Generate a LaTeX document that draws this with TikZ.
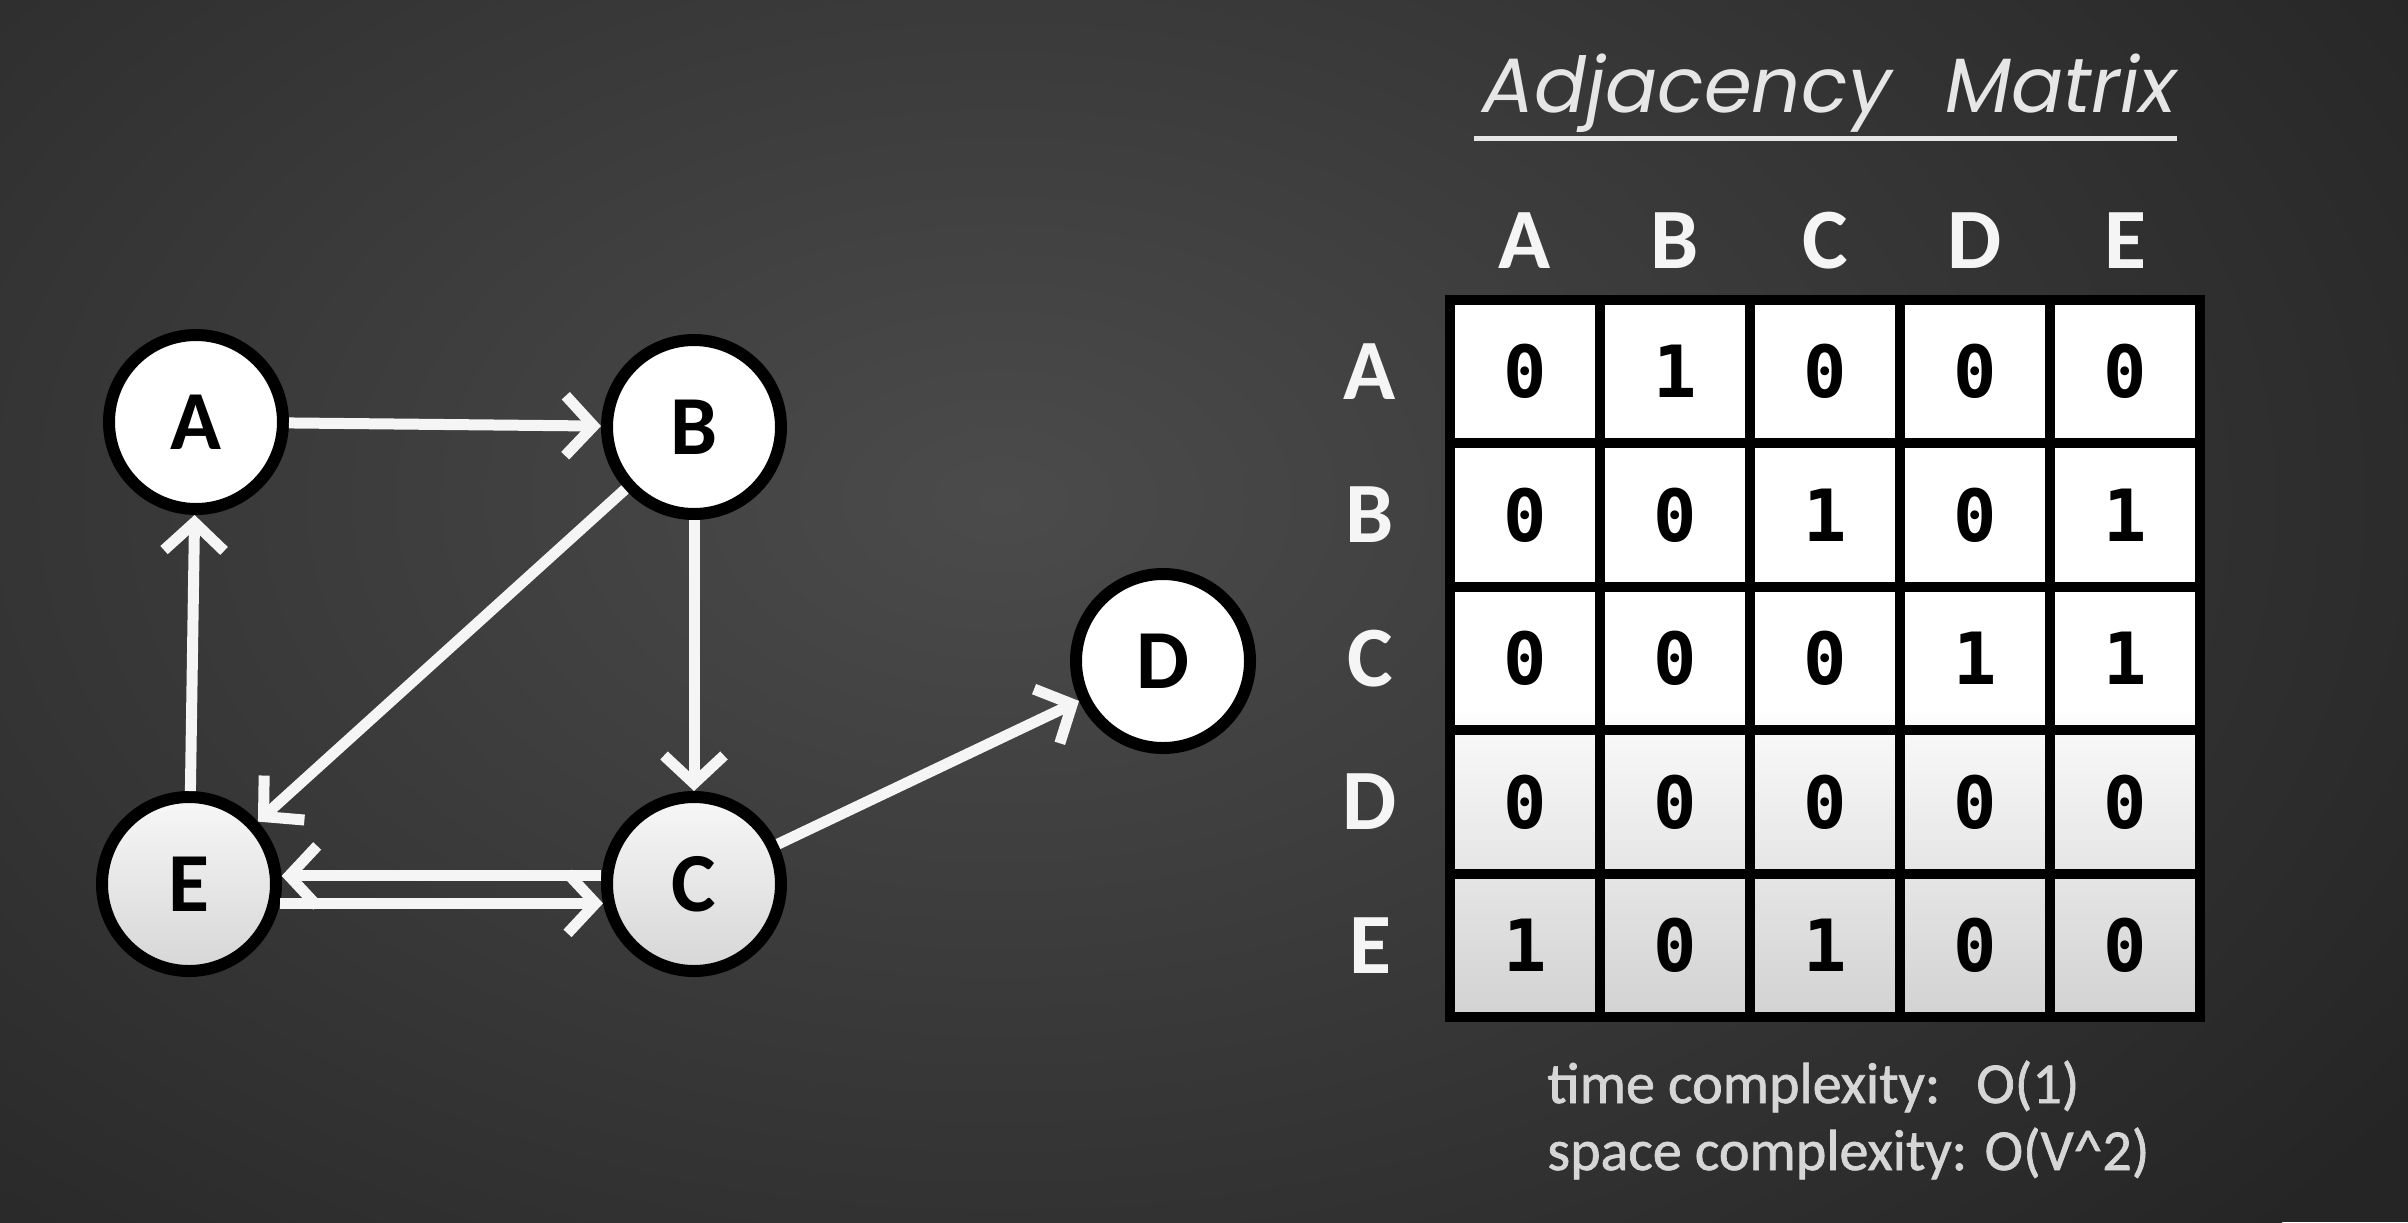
\documentclass[tikz,border=0pt]{standalone}
\usepackage{fontspec}
\usepackage{graphicx}
\usetikzlibrary{arrows.meta}
\newfontfamily\carlito{Carlito}
\newfontfamily\carlitosb{Carlito}[FakeBold=1.2]
\newfontfamily\monofnt{DejaVu Sans Mono}
\newfontfamily\titlefnt{Poppins}
\definecolor{bglight}{HTML}{4B4B4B}
\definecolor{bgdark}{HTML}{252525}
\definecolor{matbot}{HTML}{D2D2D2}
\definecolor{matmid}{HTML}{F8F8F8}
\definecolor{chalk}{HTML}{E6E6E6}
\definecolor{txtgray}{HTML}{D6D6D6}
\pgfdeclareradialshading{bgshade}{\pgfpoint{0bp}{0bp}}{color(0bp)=(bglight); color(25bp)=(bgdark); color(50bp)=(bgdark)}
\pgfdeclareverticalshading{matshade}{100bp}{color(0bp)=(matbot); color(25bp)=(matbot); color(45bp)=(matmid); color(46.5bp)=(white); color(100bp)=(white)}
\tikzset{
  gnode/.style={circle, draw=black, line width=6pt, minimum size=87pt, inner sep=0pt,
    fill=white, text=black, font=\carlito\bfseries\fontsize{42}{42}\selectfont},
  lownode/.style={gnode, top color=white!97!black, bottom color=white!84!black},
  garrow/.style={draw=white!96!black, line width=5.5pt, -{Straight Barb[length=14pt,width=30pt]}},
  gridline/.style={draw=black, line width=5pt},
  digit/.style={inner sep=0pt, text=black, font=\monofnt\bfseries\fontsize{36}{36}\selectfont},
  hdr/.style={inner sep=0pt, text=white!96!black, font=\carlito\bfseries\fontsize{43}{43}\selectfont},
  info/.style={anchor=base west, inner sep=0pt, text=txtgray, font=\carlitosb\fontsize{29}{29}\selectfont}
}
\begin{document}
\begin{tikzpicture}[x=0.5pt,y=-0.5pt]
\useasboundingbox (0,0) rectangle (2408,1222);
\fill[bgdark] (0,0) rectangle (2408,1222);
\begin{scope}
  \clip (0,0) rectangle (2408,1222);
  \shade[shading=bgshade] (1000,500) ellipse [x radius=1700, y radius=1100];
\end{scope}

% graph
\node[gnode] (A) at (196,422) {A};
\node[gnode] (B) at (694,427) {B};
\node[gnode] (D) at (1163,661) {D};
\node[lownode] (E) at (189,884) {E};
\node[lownode] (C) at (694,884) {C};

\draw[garrow] (A) -- (B);
\draw[garrow] (B) -- (C);
\draw[garrow] (B) -- (E);
\draw[garrow] (E) -- (A);
\draw[garrow] (C.175) -- (E.5);
\draw[garrow] (E.348) -- (C.192);
\draw[garrow] (C) -- (D);

% title
\node[anchor=base west, inner sep=0pt, text=chalk, font=\titlefnt\itshape\fontsize{38.5}{38.5}\selectfont] (title) at (1482,112) {Adjacency\hspace{0.7em}Matrix};
\draw[chalk, line width=2.5pt] (1474,138) -- (2177,138);

% matrix
\shade[shading=matshade] (1450,300) rectangle (2200,1017);
\foreach \k in {1,...,4} {
  \draw[gridline] ({1450+150*\k},300) -- ({1450+150*\k},1017);
  \draw[gridline] (1450,{300+143.4*\k}) -- (2200,{300+143.4*\k});
}
\draw[gridline, line join=miter] (1450,300) rectangle (2200,1017);

\foreach \row [count=\i] in {{0,1,0,0,0},{0,0,1,0,1},{0,0,0,1,1},{0,0,0,0,0},{1,0,1,0,0}} {
  \foreach \v [count=\j] in \row {
    \node[digit] (m-\i-\j) at ({1450+150*(\j-0.5)},{300+143.4*(\i-0.5)}) {\v};
  }
}
\foreach \L [count=\j] in {A,B,C,D,E} {
  \node[hdr] (col-\L) at ({1450+150*(\j-0.5)},241) {\L};
  \node[hdr] (row-\L) at (1370,{300+143.4*(\j-0.5)}) {\L};
}

% complexity text
\node[info] (t1) at (1547,1103) {\makebox[214.5pt][l]{time complexity:}O(1)};
\node[info] (t2) at (1547,1170) {space complexity: O(V\textasciicircum 2)};
\end{tikzpicture}
\end{document}
